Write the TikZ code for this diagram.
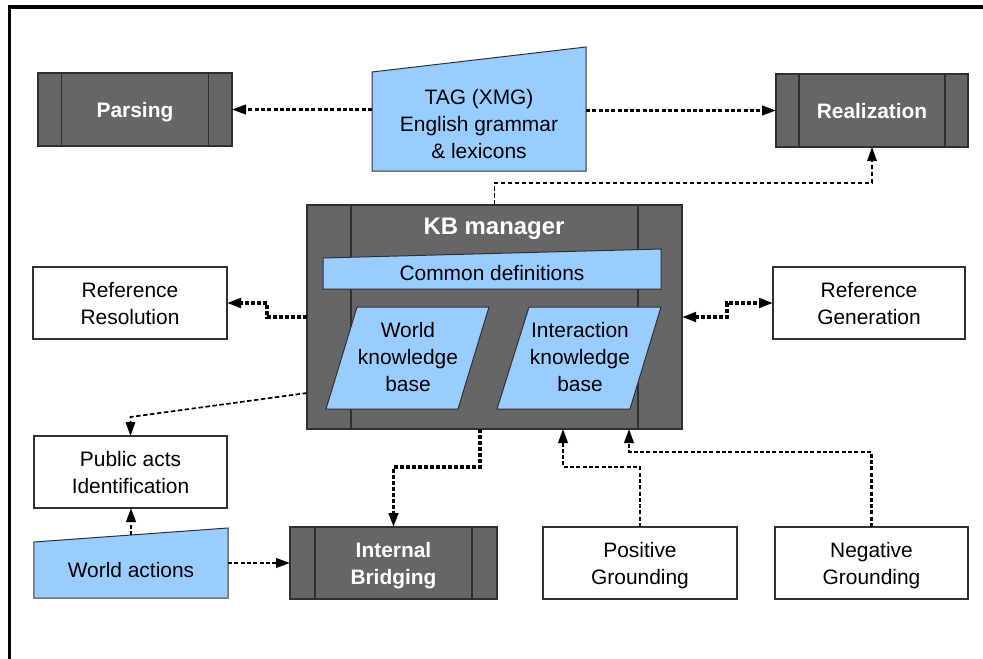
\documentclass[tikz,border=0pt]{standalone}
\usepackage{fontspec}
\setmainfont{Liberation Sans}
\usetikzlibrary{arrows.meta,calc}
\definecolor{darkbox}{HTML}{666666}
\definecolor{lightblue}{HTML}{99CCFF}
\definecolor{edgecol}{HTML}{303030}
\begin{document}
\begin{tikzpicture}[x=1bp,y=-1bp,
  every node/.style={font=\fontsize{21}{27}\selectfont, align=center, inner sep=0pt, outer sep=0pt, text depth=0pt},
  darkstyle/.style={draw=edgecol, fill=darkbox, line width=1.3bp, text=white, font=\fontsize{21}{27}\selectfont\bfseries},
  whitebox/.style={draw=edgecol, fill=white, line width=1.2bp},
  blueshape/.style={draw=edgecol, fill=lightblue, line width=1bp},
  conn/.style={line width=2.3bp, dash pattern=on 4bp off 2.3bp, -{Triangle[length=14bp,width=9.5bp]}},
  thickconn/.style={line width=3.1bp, dash pattern=on 4bp off 2bp, -{Triangle[length=14bp,width=9.5bp]}},
  thinconn/.style={line width=1.7bp, dash pattern=on 4.5bp off 2.5bp, -{Triangle[length=14bp,width=9.5bp]}},
]
\useasboundingbox (0,0) rectangle (983,659);
% frame
\draw[line width=3.5bp] (9.5,659) -- (9.5,7) -- (983,7);

% dark process boxes
\node[darkstyle, minimum width=194bp, minimum height=73bp] (parsing) at (135,109.5) {Parsing};
\node[darkstyle, minimum width=192bp, minimum height=73bp] (realization) at (872,110.5) {Realization};
\node[darkstyle, minimum width=375bp, minimum height=224bp] (kb) at (494.5,317) {};
\node[darkstyle, minimum width=207bp, minimum height=72bp] (internal) at (393.5,563) {Internal\\Bridging};
\foreach \n/\d in {parsing/23.5, realization/23, kb/44, internal/25}{
  \draw[edgecol, line width=1.2bp] ([xshift=\d bp]\n.north west) -- ([xshift=\d bp]\n.south west);
  \draw[edgecol, line width=1.2bp] ([xshift=-\d bp]\n.north east) -- ([xshift=-\d bp]\n.south east);
}
\node[text=white, font=\fontsize{24}{29}\selectfont\bfseries] (kbtitle) at (494,226) {KB manager};

% white boxes
\node[whitebox, minimum width=194bp, minimum height=72bp] (refres) at (130,303) {Reference\\Resolution};
\node[whitebox, minimum width=192bp, minimum height=72bp] (refgen) at (869,303) {Reference\\Generation};
\node[whitebox, minimum width=193bp, minimum height=72bp] (public) at (130.5,472) {Public acts\\Identification};
\node[whitebox, minimum width=194bp, minimum height=72bp] (positive) at (640,563) {Positive\\Grounding};
\node[whitebox, minimum width=193bp, minimum height=72bp] (negative) at (871.5,563) {Negative\\Grounding};

% blue shapes
\node[minimum width=214bp, minimum height=124bp] (tag) at (479,109) {};
\draw[blueshape] (tag.south west) -- (tag.south east) -- (tag.north east) -- ([yshift=-25bp]tag.north west) -- cycle;
\node (tagtext) at (479,124) {TAG (XMG)\\English grammar\\\& lexicons};

\node[minimum width=338bp, minimum height=40bp] (cdef) at (492,269) {};
\draw[blueshape] (cdef.south west) -- (cdef.south east) -- (cdef.north east) -- ([yshift=-9bp]cdef.north west) -- cycle;
\node (cdeftext) at (492,273) {Common definitions};

\draw[blueshape] (357,307) -- (489,307) -- (458,409) -- (326,409) -- cycle;
\node (wkb) at (408,357) {World\\knowledge\\base};
\draw[blueshape] (529,307) -- (661,307) -- (630,409) -- (497,409) -- cycle;
\node (ikb) at (580,357) {Interaction\\knowledge\\base};

\node[minimum width=194bp, minimum height=70bp] (wact) at (131,563) {};
\draw[blueshape] (wact.south west) -- (wact.south east) -- (wact.north east) -- ([yshift=-14bp]wact.north west) -- cycle;
\node (wacttext) at (131,570) {World actions};

% connectors
\draw[conn] (tag.west |- parsing.east) -- (parsing.east);
\draw[conn] (tag.east |- realization.west) -- (realization.west);
\draw[thinconn] (kb.north) -- ++(0,-22) -| (realization.south);
\draw[thickconn] (kb.west) -- ++(-40,0) |- (refres.east);
\draw[thickconn, {Triangle[length=14bp,width=9.5bp]}-{Triangle[length=14bp,width=9.5bp]}] (kb.east) -- ++(45,0) |- (refgen.west);
\draw[thinconn] ([yshift=-76bp]kb.west) -- ([yshift=19bp]public.north) -- (public.north);
\draw[conn] ([yshift=-7bp]wact.north) -- (wact.north |- public.south);
\draw[conn] (wact.east) -- (internal.west);
\draw[thickconn] ([xshift=-14.5bp]kb.south) -- ++(0,38) -| (internal.north);
\draw[conn] (positive.north) -- ++(0,-60) -| ([xshift=68.5bp]kb.south);
\draw[conn] (negative.north) -- ++(0,-75) -| ([xshift=134.5bp]kb.south);
\end{tikzpicture}
\end{document}
